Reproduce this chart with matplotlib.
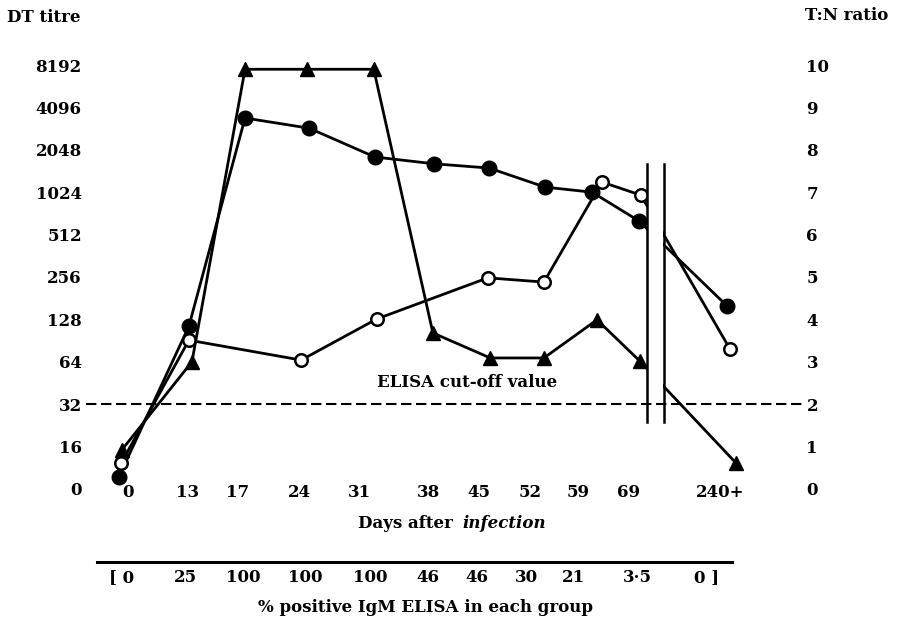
import matplotlib
matplotlib.use("Agg")
import matplotlib.pyplot as plt
from matplotlib.patches import Rectangle

# ---------------- data ----------------
dt_tick_labels = ["0", "16", "32", "64", "128", "256", "512", "1024", "2048", "4096", "8192"]
tn_tick_labels = ["0", "1", "2", "3", "4", "5", "6", "7", "8", "9", "10"]
tick_values = [0, 1, 2, 3, 4, 5, 6, 7, 8, 9, 10]

day_labels = ["0", "13", "17", "24", "31", "38", "45", "52", "59", "69", "240+"]
day_label_pos = [0.13, 1.10, 1.93, 2.95, 3.93, 5.05, 5.89, 6.72, 7.51, 8.33, 9.84]

pct_labels = ["[ 0", "25", "100", "100", "100", "46", "46", "30", "21", "3·5", "0 ]"]
pct_label_pos = [0.03, 1.07, 2.02, 3.03, 4.10, 5.05, 5.85, 6.67, 7.43, 8.48, 9.62]

# filled circles
filled_x = [-0.02, 1.13, 2.05, 3.10, 4.18, 5.15, 6.05, 6.97, 7.74, 8.51, 9.95]
filled_y = [0.28, 3.84, 8.75, 8.51, 7.83, 7.67, 7.57, 7.12, 7.00, 6.32, 4.32]

# open circles
open_x = [0.02, 1.13, 2.97, 4.21, 6.03, 6.95, 7.90, 8.54, 10.00]
open_y = [0.61, 3.51, 3.04, 4.01, 4.98, 4.88, 7.24, 6.93, 3.30]

# triangles
tri_x = [0.03, 1.18, 2.05, 3.07, 4.16, 5.13, 6.07, 6.95, 7.82, 8.52, 10.10]
tri_y = [0.92, 3.00, 9.90, 9.90, 9.90, 3.68, 3.09, 3.09, 3.99, 3.02, 0.61]

cutoff_value = 2
break_x = [8.64, 8.92]
break_y = [1.58, 7.67]

# ---------------- figure ----------------
plt.rcParams['font.family'] = ['DejaVu Serif']
plt.rcParams['font.weight'] = 'bold'
FS = 12

W, H = 900, 622
fig = plt.figure(figsize=(W / 100, H / 100), dpi=100)
fig.patch.set_facecolor('white')


def fx(px):
    return px / W


def fy(py):
    return 1 - py / H


ax = fig.add_axes([fx(86), fy(514.4), fx(805) - fx(86), (514.4 - 52.3) / H])
ax.set_xlim(-0.557, 11.23)
ax.set_ylim(-0.6, 10.3)
for s in ax.spines.values():
    s.set_visible(False)
ax.set_xticks([])
ax.set_yticks(tick_values)
ax.set_yticklabels(dt_tick_labels, fontsize=FS, fontweight='bold')
ax.tick_params(axis='y', length=0, pad=3)

ax2 = ax.twinx()
ax2.set_ylim(ax.get_ylim())
for s in ax2.spines.values():
    s.set_visible(False)
ax2.set_yticks(tick_values)
ax2.set_yticklabels(tn_tick_labels, fontsize=FS, fontweight='bold')
ax2.tick_params(axis='y', length=0, pad=1)

lw = 2.0
ax.plot(filled_x, filled_y, color='black', lw=lw, marker='o', ms=10.5,
        mfc='black', mec='black', zorder=3, clip_on=False)
ax.plot(open_x, open_y, color='black', lw=lw, marker='o', ms=9,
        mfc='white', mec='black', mew=1.8, zorder=3, clip_on=False)
ax.plot(tri_x, tri_y, color='black', lw=lw, marker='^', ms=10.5,
        mfc='black', mec='black', zorder=3, clip_on=False)

# axis break
ax.add_patch(Rectangle((break_x[0] + 0.02, break_y[0]), break_x[1] - break_x[0] - 0.04,
                       break_y[1] - break_y[0], facecolor='white', edgecolor='none', zorder=4))
for bx in break_x:
    ax.plot([bx, bx], break_y, color='black', lw=1.8, zorder=6)

# cut-off line
ax.axhline(cutoff_value, color='black', lw=1.5, ls=(0, (5, 2.2)), zorder=5)
ax.text(5.69, cutoff_value + 0.5, "ELISA cut-off value", ha='center', va='center',
        fontsize=FS, fontweight='bold', zorder=7)

# day labels
for p, lab in zip(day_label_pos, day_labels):
    ax.text(p, -0.09, lab, ha='center', va='center', fontsize=FS,
            fontweight='bold', clip_on=False)

# percent labels
for p, lab in zip(pct_label_pos, pct_labels):
    ax.text(p, -2.08, lab, ha='center', va='center', fontsize=FS,
            fontweight='bold', clip_on=False)

ax.plot([-0.377, 10.03], [-1.72, -1.72], color='black', lw=2.2, clip_on=False)

# titles
fig.text(fx(7), fy(18), "DT titre", ha='left', va='center', fontsize=FS, fontweight='bold')
fig.text(fx(805), fy(15), "T:N ratio", ha='left', va='center', fontsize=FS, fontweight='bold')
fig.text(fx(358), fy(523), "Days after", ha='left', va='center', fontsize=FS, fontweight='bold')
fig.text(fx(462), fy(523), "infection", ha='left', va='center', fontsize=FS,
         fontweight='bold', fontstyle='italic')
fig.text(fx(426), fy(607), "% positive IgM ELISA in each group", ha='center', va='center',
         fontsize=FS, fontweight='bold')

fig.savefig("out.png", dpi=100, facecolor='white')
